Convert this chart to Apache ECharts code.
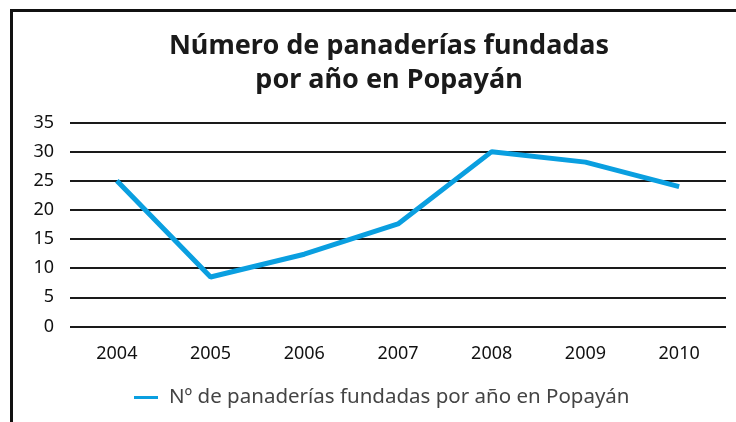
<!DOCTYPE html>
<html>
<head>
<meta charset="utf-8">
<script src="https://cdn.jsdelivr.net/npm/echarts@6/dist/echarts.min.js"></script>
<style>
  html, body { margin: 0; padding: 0; background: #fff; }
  #main { width: 736px; height: 422px; }
  .frame { position: absolute; left: 10px; top: 9px; right: 0; bottom: 0;
           border-left: 3px solid #111; border-top: 3px solid #111; pointer-events: none; }
</style>
</head>
<body>
<div id="main"></div>
<div class="frame"></div>
<script>
// datos
var years = ['2004', '2005', '2006', '2007', '2008', '2009', '2010'];
var panaderias = [25, 8.5, 12.4, 17.6, 30, 28.2, 24];
var serieNombre = 'Nº de panaderías fundadas por año en Popayán';

var chart = echarts.init(document.getElementById('main'));
chart.setOption({
  animation: false,
  title: {
    text: 'Número de panaderías fundadas\npor año en Popayán',
    left: 384,
    textAlign: 'center',
    top: 24,
    textStyle: { fontFamily: 'Noto Sans', fontWeight: 'bold', fontSize: 27, lineHeight: 34, color: '#1a1a1a' }
  },
  legend: {
    bottom: 9,
    left: 129,
    itemWidth: 24,
    itemHeight: 3,
    itemGap: 8,
    icon: 'rect',
    textStyle: { fontFamily: 'Noto Sans', fontSize: 20.5, color: '#444', padding: [0, 0, 0, 6] },
    data: [serieNombre]
  },
  grid: { left: 70, right: 10, top: 122.5, bottom: 95.5 },
  xAxis: {
    type: 'category',
    data: years,
    axisLine: { show: false },
    axisTick: { show: false },
    axisLabel: { margin: 18, fontFamily: 'Noto Sans', fontSize: 18, color: '#111' }
  },
  yAxis: {
    type: 'value',
    min: 0, max: 35, interval: 5,
    axisLine: { show: false },
    axisTick: { show: false },
    axisLabel: { margin: 16, fontFamily: 'Noto Sans', fontSize: 18, color: '#111' },
    splitLine: { lineStyle: { color: '#1a1a1a', width: 2 } }
  },
  series: [{
    name: serieNombre,
    type: 'line',
    data: panaderias,
    symbol: 'none',
    lineStyle: { color: '#0a9fe0', width: 5 },
    itemStyle: { color: '#0a9fe0' }
  }]
});
</script>
</body>
</html>
